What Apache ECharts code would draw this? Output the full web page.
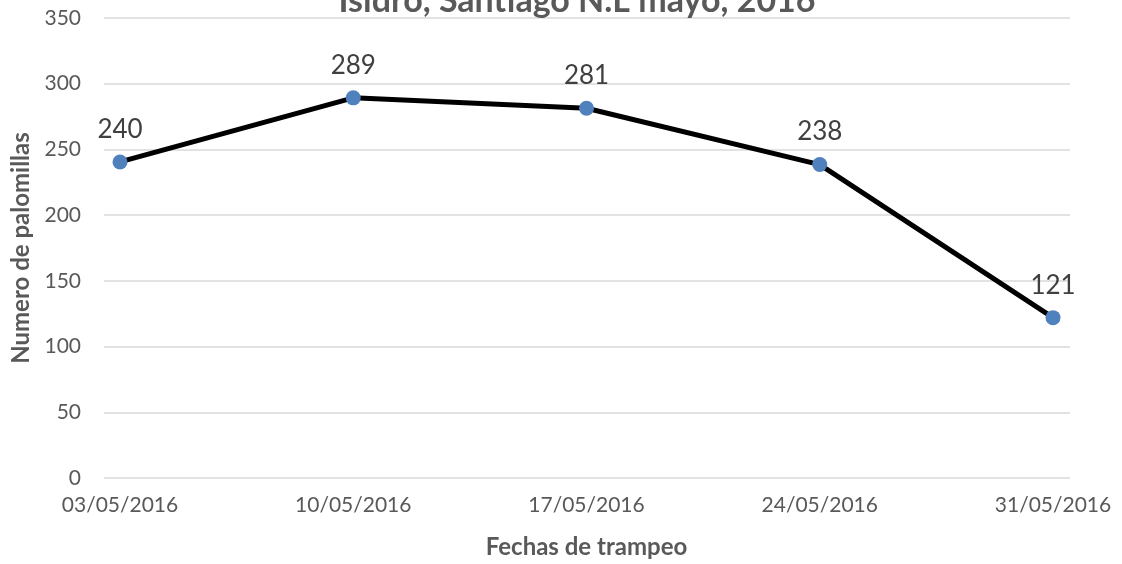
<!DOCTYPE html>
<html>
<head>
<meta charset="utf-8">
<script src="https://cdn.jsdelivr.net/npm/echarts@6/dist/echarts.min.js"></script>
<style>
  html, body { margin: 0; padding: 0; background: #fff; }
  #box { width: 1122px; height: 564px; }
</style>
</head>
<body>
<div id="box"></div>
<script>
// datos del trampeo
const fechas = ["03/05/2016", "10/05/2016", "17/05/2016", "24/05/2016", "31/05/2016"];
const palomillas = [240, 289, 281, 238, 121];
const yMin = 0;
const yMax = 350;
const yStep = 50;

let myChart = echarts.init(document.getElementById("box"));
const font = "Lato, 'Open Sans', sans-serif";
let option = {
  animation: false,
  textStyle: { fontFamily: font },
  title: {
    text: "Isidro, Santiago N.L mayo, 2016",
    left: 572,
    textAlign: "center",
    top: -21,
    textStyle: { fontSize: 34, fontWeight: "bold", color: "#595959", fontFamily: font }
  },
  grid: [
    // grid de datos
    { left: 120, right: 69, top: 18, bottom: 86 },
    // grid para las lineas de fondo (un poco mas ancho)
    { left: 104, right: 52, top: 18, bottom: 86 }
  ],
  xAxis: [
    {
      type: "category",
      gridIndex: 0,
      boundaryGap: false,
      data: fechas,
      axisLine: { show: false },
      axisTick: { show: false },
      axisLabel: { color: "#595959", fontSize: 21, margin: 19 },
      name: "Fechas de trampeo",
      nameLocation: "middle",
      nameGap: 59,
      nameTextStyle: { color: "#595959", fontSize: 24, fontWeight: "bold" }
    },
    {
      type: "value",
      gridIndex: 1,
      show: false
    }
  ],
  yAxis: [
    {
      type: "value",
      gridIndex: 0,
      min: yMin, max: yMax, interval: yStep,
      axisLabel: { show: false },
      splitLine: { show: false },
      axisLine: { show: false },
      axisTick: { show: false }
    },
    {
      type: "value",
      gridIndex: 1,
      min: yMin, max: yMax, interval: yStep,
      axisLine: { show: false },
      axisTick: { show: false },
      axisLabel: { color: "#595959", fontSize: 21, margin: 23 },
      splitLine: { lineStyle: { color: "#d9d9d9", width: 1.5 } },
      name: "Numero de palomillas",
      nameLocation: "middle",
      nameGap: 70,
      nameTextStyle: { color: "#595959", fontSize: 24, fontWeight: "bold" }
    }
  ],
  series: [
    {
      name: "Palomillas",
      type: "line",
      xAxisIndex: 0,
      yAxisIndex: 0,
      data: palomillas,
      symbol: "circle",
      symbolSize: 15,
      lineStyle: { color: "#000000", width: 5 },
      itemStyle: { color: "#4f81bd" },
      label: {
        show: true,
        position: "top",
        distance: 12,
        fontSize: 26,
        color: "#404040"
      },
      z: 3
    }
  ]
};
myChart.setOption(option);
</script>
</body>
</html>
